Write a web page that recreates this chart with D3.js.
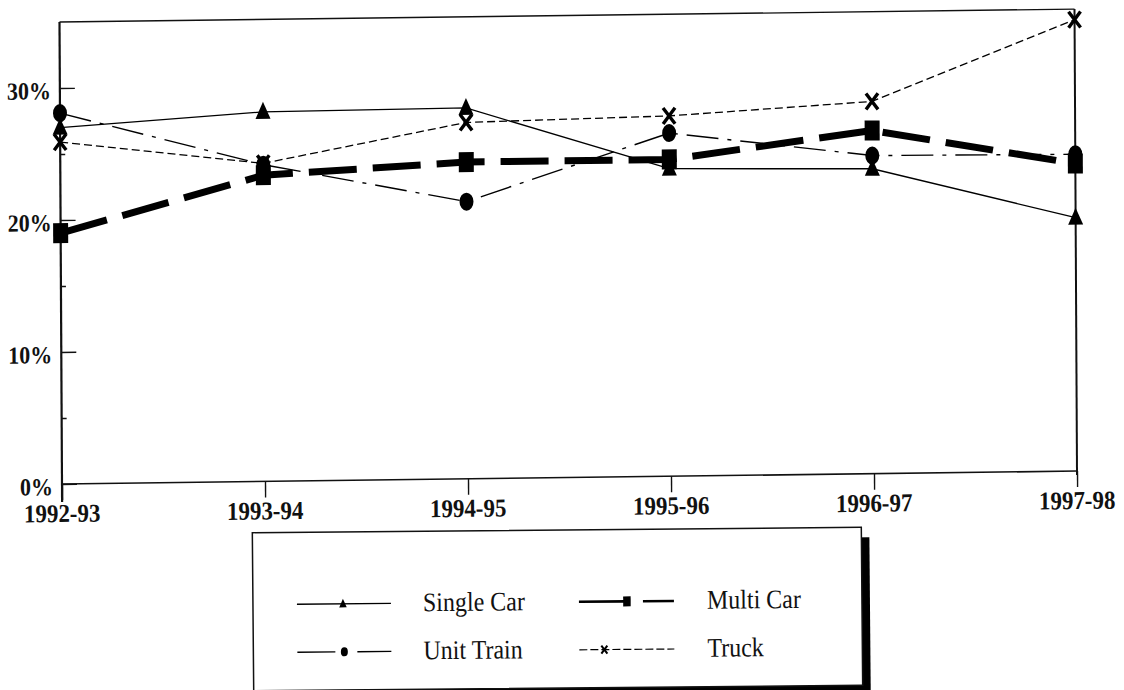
<!DOCTYPE html>
<html>
<head>
<meta charset="utf-8">
<script src="https://cdn.jsdelivr.net/npm/d3@7"></script>
<style>
  body { margin: 0; background: #fff; }
  svg { display: block; }
</style>
</head>
<body>
<svg id="chart" width="1124" height="690"></svg>
<script>
// Share of shipments by mode, per fiscal year
const years = ["1992-93", "1993-94", "1994-95", "1995-96", "1996-97", "1997-98"];
const singleCar = [27.0, 28.0, 28.1, 23.3, 23.1, 19.2];
const multiCar  = [19.0, 23.2, 24.0, 24.0, 26.0, 23.3];
const unitTrain = [28.1, 24.0, 21.0, 26.0, 24.1, 24.0];
const truck     = [25.9, 24.1, 27.0, 27.3, 28.2, 34.2];
const yTicks = [0, 10, 20, 30];
const yMinorTicks = [5, 15, 25];
const seriesNames = ["Single Car", "Multi Car", "Unit Train", "Truck"];

const series = [
  { name: seriesNames[0], values: singleCar, marker: "triangle", width: 1.3, dash: null },
  { name: seriesNames[2], values: unitTrain, marker: "circle",   width: 1.4, dash: "32,9,4,9" },
  { name: seriesNames[3], values: truck,     marker: "cross",    width: 1.3, dash: "8,4" },
  { name: seriesNames[1], values: multiCar,  marker: "square",   width: 7,   dash: "48,16" }
];

const svg = d3.select("#chart");
const serif = "'Liberation Serif', 'Times New Roman', serif";

const plotL = 62, plotR = 1077, plotT = 22, plotB = 484;
const x = d3.scalePoint().domain(years).range([plotL, plotR]);
const y = d3.scaleLinear().domain([0, 35]).range([plotB, plotT]);

// the printed page is slightly skewed
const g = svg.append("g")
  .attr("transform", `translate(${plotL},${plotB}) skewY(-0.73) skewX(0.31) translate(${-plotL},${-plotB})`);

// frame: top and right edges
g.append("line").attr("x1", plotL).attr("x2", plotR).attr("y1", plotT).attr("y2", plotT)
  .attr("stroke", "#111").attr("stroke-width", 1.4);
g.append("line").attr("x1", plotR).attr("x2", plotR).attr("y1", plotT).attr("y2", plotB + 4)
  .attr("stroke", "#111").attr("stroke-width", 2);

// y axis with inward ticks
const yAxis = d3.axisRight(y).tickValues(yTicks).tickSize(15).tickFormat("");
const ya = g.append("g").attr("transform", `translate(${plotL},0)`).call(yAxis);
ya.select(".domain").attr("stroke", "#111").attr("stroke-width", 2.2)
  .attr("d", `M0,${plotT}V${plotB + 18}`);
ya.selectAll(".tick line").attr("stroke", "#111").attr("stroke-width", 1.4);
const yMinor = d3.axisRight(y).tickValues(yMinorTicks).tickSize(5).tickFormat("");
const ym = g.append("g").attr("transform", `translate(${plotL},0)`).call(yMinor);
ym.select(".domain").remove();
ym.selectAll(".tick line").attr("stroke", "#111").attr("stroke-width", 1.4);

// y tick labels
g.selectAll(".ylab").data(yTicks).join("text")
  .attr("class", "ylab")
  .attr("transform", d => `translate(${plotL - 9},${y(d) + 11}) scale(1,1.12)`)
  .attr("text-anchor", "end")
  .attr("font-family", serif).attr("font-weight", "bold").attr("font-size", 22)
  .attr("fill", "#111")
  .text(d => d + "%");

// x axis with outward ticks
const xAxis = d3.axisBottom(x).tickSize(16).tickFormat("");
const xa = g.append("g").attr("transform", `translate(0,${plotB})`).call(xAxis);
xa.select(".domain").attr("stroke", "#111").attr("stroke-width", 1.6)
  .attr("d", `M${plotL},0H${plotR}`);
xa.selectAll(".tick line").attr("stroke", "#111").attr("stroke-width", 1.4);

g.selectAll(".xlab").data(years).join("text")
  .attr("class", "xlab")
  .attr("transform", d => `translate(${x(d)},${plotB + 38}) scale(1,1.12)`)
  .attr("text-anchor", "middle")
  .attr("font-family", serif).attr("font-weight", "bold").attr("font-size", 23)
  .attr("fill", "#111")
  .text(d => d);

// marker shapes
function drawMarker(sel, type, cx, cy, s) {
  const k = s || 1;
  if (type === "triangle") {
    sel.append("path")
      .attr("d", `M${cx},${cy - 10 * k}L${cx + 7.5 * k},${cy + 7 * k}L${cx - 7.5 * k},${cy + 7 * k}Z`)
      .attr("fill", "#000");
  } else if (type === "square") {
    sel.append("rect").attr("x", cx - 7.5 * k).attr("y", cy - 10 * k)
      .attr("width", 15 * k).attr("height", 20 * k).attr("fill", "#000");
  } else if (type === "circle") {
    sel.append("ellipse").attr("cx", cx).attr("cy", cy)
      .attr("rx", 7 * k).attr("ry", 9 * k).attr("fill", "#000");
  } else if (type === "cross") {
    sel.append("path")
      .attr("d", `M${cx - 6 * k},${cy - 8 * k}L${cx + 6 * k},${cy + 8 * k}M${cx + 6 * k},${cy - 8 * k}L${cx - 6 * k},${cy + 8 * k}`)
      .attr("stroke", "#000").attr("stroke-width", 3.4 * Math.max(k, 0.6)).attr("fill", "none");
  }
}

const line = d3.line().x((d, i) => x(years[i])).y(d => y(d));

series.forEach(s => {
  g.append("path").datum(s.values)
    .attr("d", line)
    .attr("fill", "none")
    .attr("stroke", "#000")
    .attr("stroke-width", s.width)
    .attr("stroke-dasharray", s.dash);
});
series.forEach(s => {
  const mg = g.append("g");
  s.values.forEach((v, i) => drawMarker(mg, s.marker, x(years[i]), y(v)));
});

// legend
const lg = svg.append("g").attr("transform", "rotate(-0.5, 557, 609)");
const lx = 253, ly = 530, lw = 609, lh = 158;
lg.append("rect").attr("x", lx + 8).attr("y", ly + 10).attr("width", lw).attr("height", lh)
  .attr("fill", "#000");
lg.append("rect").attr("x", lx).attr("y", ly).attr("width", lw).attr("height", lh)
  .attr("fill", "#fff").attr("stroke", "#111").attr("stroke-width", 1.5);

const legendItems = [
  { name: seriesNames[0], marker: "triangle", x0: 297, x1: 391, mx: 343, row: 0, col: 0, width: 1.3, dash: null },
  { name: seriesNames[1], marker: "square",   x0: 579, x1: 674, mx: 627, row: 0, col: 1, width: 2.6, dash: "46,18" },
  { name: seriesNames[2], marker: "circle",   x0: 297, x1: 391, mx: 344, row: 1, col: 0, width: 1.3, dash: "38,22" },
  { name: seriesNames[3], marker: "cross",    x0: 579, x1: 674, mx: 604, row: 1, col: 1, width: 1.2, dash: "8,3" }
];
const rowY = [602, 650];
const textX = [423, 707];
legendItems.forEach(it => {
  const cy = rowY[it.row];
  lg.append("line").attr("x1", it.x0).attr("x2", it.x1).attr("y1", cy).attr("y2", cy)
    .attr("stroke", "#000").attr("stroke-width", it.width)
    .attr("stroke-dasharray", it.dash);
  drawMarker(lg, it.marker, it.mx, cy, 0.5);
  lg.append("text")
    .attr("transform", `translate(${textX[it.col]},${cy + 8}) scale(1,1.12)`)
    .attr("font-family", serif).attr("font-size", 24).attr("fill", "#111")
    .text(it.name);
});
</script>
</body>
</html>
